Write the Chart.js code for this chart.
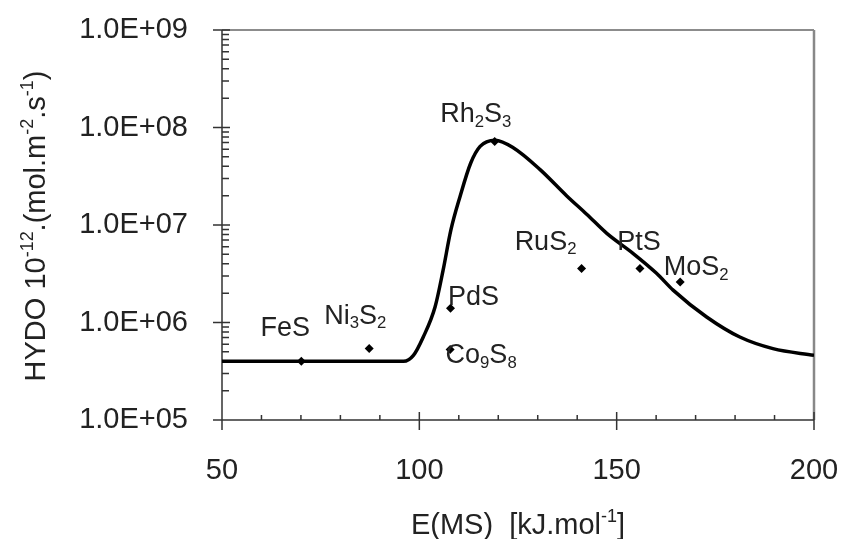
<!DOCTYPE html>
<html>
<head>
<meta charset="utf-8">
<script src="https://cdn.jsdelivr.net/npm/chart.js@4"></script>
<style>
  html, body { margin: 0; background: #fff; }
  #wrap { width: 846px; height: 539px; position: relative; }
</style>
</head>
<body>
<div id="wrap"><canvas id="volcano-canvas"></canvas></div>
<script>
// Volcano curve: HYDO rate vs metal-sulfur bond energy
const curveE = [50, 70, 90, 96, 98.5, 101, 104, 106, 108, 110.3, 113, 115.4, 119.2, 123.8, 130.6, 137.3, 142.4, 147.5, 154.2, 160.1, 164.3, 172.8, 181.2, 189.6, 200];
const curveHydo = [4.0e5, 4.0e5, 4.0e5, 4.0e5, 4.6e5, 7.1e5, 1.45e6, 3.4e6, 8.9e6, 1.95e7, 4.3e7, 6.4e7, 7.4e7, 6.2e7, 3.7e7, 2.0e7, 1.29e7, 8.2e6, 5.1e6, 3.2e6, 2.15e6, 1.14e6, 7.1e5, 5.4e5, 4.6e5];

// Measured sulfides
const compounds = ["FeS", "Ni_3S_2", "PdS", "Co_9S_8", "Rh_2S_3", "RuS_2", "PtS", "MoS_2"];
const compoundE = [70.1, 87.3, 107.9, 107.8, 119.1, 141.1, 155.9, 166.1];
const compoundHydo = [4.0e5, 5.4e5, 1.4e6, 5.3e5, 7.2e7, 3.57e6, 3.58e6, 2.61e6];

// Axis ticks
const xTicks = [50, 100, 150, 200];
const yTicks = [1e5, 1e6, 1e7, 1e8, 1e9];
const yTickLabels = ["1.0E+05", "1.0E+06", "1.0E+07", "1.0E+08", "1.0E+09"];

const xTitle = "E(MS)  [kJ.mol^{-1}]";
const yTitle = "HYDO 10^{-12}.(mol.m^{-2}.s^{-1})";

// label placement (px from the marker: centre x, baseline y)
const labelOffset = [[-16, -25], [-14, -25], [23, -3], [31, 14], [-19, -19], [-36, -19], [-1, -18], [16, -7]];

const FONT = '"Liberation Sans", Arial, sans-serif';
const INK = "#222";

Chart.defaults.font.family = FONT;

// "Ni_3S_2" / "10^{-12}" -> runs of normal, sub and sup text
function parseRich(str) {
  const out = [];
  let buf = "", i = 0;
  while (i < str.length) {
    const c = str[i];
    if (c === "_" || c === "^") {
      if (buf) { out.push({ t: buf, k: 0 }); buf = ""; }
      let s;
      if (str[i + 1] === "{") {
        const j = str.indexOf("}", i);
        s = str.slice(i + 2, j);
        i = j + 1;
      } else {
        s = str[i + 1];
        i += 2;
      }
      out.push({ t: s, k: c === "_" ? 1 : -1 });
    } else {
      buf += c;
      i++;
    }
  }
  if (buf) out.push({ t: buf, k: 0 });
  return out;
}

function drawRich(ctx, str, x, y, size) {
  const parts = parseRich(str);
  const small = size * 0.62;
  const f = (s) => `${s}px ${FONT}`;
  let w = 0;
  parts.forEach((p) => {
    ctx.font = f(p.k ? small : size);
    p.w = ctx.measureText(p.t).width;
    w += p.w;
  });
  let cx = x - w / 2;
  ctx.textAlign = "left";
  ctx.textBaseline = "alphabetic";
  parts.forEach((p) => {
    ctx.font = f(p.k ? small : size);
    const dy = p.k === 1 ? size * 0.18 : p.k === -1 ? -size * 0.4 : 0;
    ctx.fillText(p.t, cx, y + dy);
    cx += p.w;
  });
}

// frame + excel-style tick marks
const frame = {
  id: "frame",
  beforeDatasetsDraw(chart) {
    const { ctx, chartArea: a, scales: { x, y } } = chart;
    ctx.save();
    ctx.strokeStyle = "#666";
    ctx.lineWidth = 1.5;
    ctx.beginPath();
    ctx.moveTo(a.left, a.top);
    ctx.lineTo(a.right, a.top);
    ctx.stroke();
    ctx.strokeStyle = "#888";
    ctx.lineWidth = 2.5;
    ctx.beginPath();
    ctx.moveTo(a.right, a.top);
    ctx.lineTo(a.right, a.bottom);
    ctx.stroke();

    ctx.strokeStyle = "#333";
    ctx.lineWidth = 1.5;
    ctx.beginPath();
    ctx.moveTo(a.left, a.top);
    ctx.lineTo(a.left, a.bottom);
    ctx.lineTo(a.right, a.bottom);
    // x ticks
    for (let v = 50; v <= 200; v += 10) {
      const px = x.getPixelForValue(v);
      const major = v % 50 === 0;
      ctx.moveTo(px, a.bottom + (major ? 10 : 0));
      ctx.lineTo(px, a.bottom - (major ? 8 : 5));
    }
    // y ticks (log decades + minors)
    for (let d = 5; d <= 9; d++) {
      for (let m = 1; m <= 9; m++) {
        const v = m * Math.pow(10, d);
        if (v > 1e9) break;
        const py = y.getPixelForValue(v);
        const major = m === 1;
        ctx.moveTo(a.left - (major ? 9 : 0), py);
        ctx.lineTo(a.left + (major ? 8 : 7), py);
      }
    }
    ctx.stroke();
    ctx.restore();
  },
  afterDraw(chart) {
    const { ctx, chartArea: a, scales: { x, y } } = chart;
    ctx.save();
    ctx.fillStyle = INK;
    compounds.forEach((name, i) => {
      const px = x.getPixelForValue(compoundE[i]);
      const py = y.getPixelForValue(compoundHydo[i]);
      drawRich(ctx, name, px + labelOffset[i][0], py + labelOffset[i][1], 27);
    });
    drawRich(ctx, xTitle, (a.left + a.right) / 2, 534, 29);
    ctx.translate(45, 226);
    ctx.rotate(-Math.PI / 2);
    drawRich(ctx, yTitle, 0, 0, 29);
    ctx.restore();
  },
};

// labels may overhang the plot box; keep the box where it is
const noOverhang = (s) => {
  s.paddingTop = 0;
  s.paddingBottom = 0;
  s.paddingLeft = 0;
  s.paddingRight = 0;
};

new Chart(document.getElementById("volcano-canvas"), {
  type: "line",
  data: {
    datasets: [
      {
        label: "model",
        data: curveE.map((e, i) => ({ x: e, y: curveHydo[i] })),
        borderColor: "#000",
        borderWidth: 3.5,
        pointRadius: 0,
        cubicInterpolationMode: "monotone",
        fill: false,
      },
      {
        label: "sulfides",
        type: "scatter",
        data: compoundE.map((e, i) => ({ x: e, y: compoundHydo[i] })),
        pointStyle: "rectRot",
        pointRadius: 4.5,
        backgroundColor: "#000",
        borderColor: "#000",
        borderWidth: 0,
      },
    ],
  },
  options: {
    responsive: true,
    maintainAspectRatio: false,
    animation: false,
    layout: { padding: { top: 30, right: 32, left: 0, bottom: 0 } },
    plugins: { legend: { display: false }, tooltip: { enabled: false } },
    scales: {
      x: {
        type: "linear",
        min: 50,
        max: 200,
        afterBuildTicks: (s) => { s.ticks = xTicks.map((v) => ({ value: v })); },
        afterFit: (s) => { s.height = 119; noOverhang(s); },
        grid: { display: false },
        border: { display: false },
        ticks: { autoSkip: false, maxRotation: 0, padding: 26, color: INK, font: { size: 29 } },
      },
      y: {
        type: "logarithmic",
        min: 1e5,
        max: 1e9,
        afterBuildTicks: (s) => { s.ticks = yTicks.map((v) => ({ value: v })); },
        afterFit: (s) => { s.width = 222; noOverhang(s); },
        grid: { display: false },
        border: { display: false },
        ticks: {
          autoSkip: false,
          padding: 26,
          color: INK,
          font: { size: 29 },
          callback: (v, i) => yTickLabels[i],
        },
      },
    },
  },
  plugins: [frame],
});
</script>
</body>
</html>
